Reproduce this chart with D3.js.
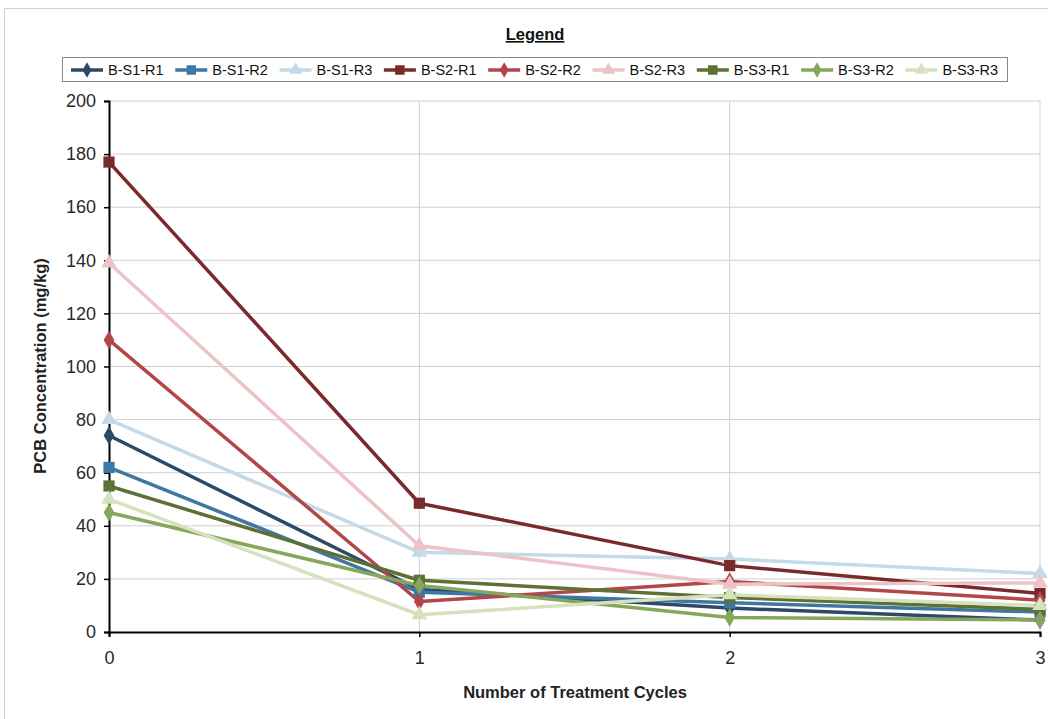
<!DOCTYPE html>
<html><head><meta charset="utf-8">
<script src="https://cdn.jsdelivr.net/npm/d3@7"></script>
<style>body{margin:0;background:#fff;} text{font-family:"Liberation Sans",Arial,sans-serif;}</style>
</head><body><svg id="c" width="1048" height="719"></svg>
<script>
const cycles = [0, 1, 2, 3];
const seriesNames = ["B-S1-R1","B-S1-R2","B-S1-R3","B-S2-R1","B-S2-R2","B-S2-R3","B-S3-R1","B-S3-R2","B-S3-R3"];
const seriesColors = ["#2c4a68","#3f77a3","#c5dae9","#7a2a2c","#b2464a","#ecc3c6","#5d7135","#86a65b","#d6e1bd"];
const seriesShapes = ["diamond","square","triangle","square","diamond","triangle","square","diamond","triangle"];
const s1r1 = [74, 16, 9, 4.5];
const s1r2 = [62, 15, 11, 7.5];
const s1r3 = [80, 30, 27.5, 22];
const s2r1 = [177, 48.5, 25, 14.5];
const s2r2 = [110, 11.5, 19, 12];
const s2r3 = [139, 32.5, 18, 18.5];
const s3r1 = [55, 19.5, 13, 8.5];
const s3r2 = [45, 17.5, 5.5, 4.5];
const s3r3 = [50, 6.5, 14, 10];
const seriesValues = [s1r1,s1r2,s1r3,s2r1,s2r2,s2r3,s3r1,s3r2,s3r3];
const yTicks = [0,20,40,60,80,100,120,140,160,180,200];
const xTicks = [0,1,2,3];

const svg = d3.select("#c");
svg.append("rect").attr("x",4.5).attr("y",8.5).attr("width",1060).attr("height",720)
  .attr("fill","none").attr("stroke","#d0d0d0").attr("stroke-width",1);

const x = d3.scaleLinear().domain([0,3]).range([109,1040]);
const y = d3.scaleLinear().domain([0,200]).range([632,101]);

svg.append("g").selectAll("line").data(yTicks.filter(d=>d>0)).join("line")
  .attr("x1",x(0)).attr("x2",x(3)).attr("y1",d=>y(d)).attr("y2",d=>y(d))
  .attr("stroke","#cfcfcf").attr("stroke-width",1);
svg.append("g").selectAll("line").data(xTicks.filter(d=>d>0)).join("line")
  .attr("x1",d=>x(d)).attr("x2",d=>x(d)).attr("y1",y(0)).attr("y2",y(200))
  .attr("stroke","#cfcfcf").attr("stroke-width",1);

const yAxis = svg.append("g").attr("transform",`translate(${x(0)},0)`)
  .call(d3.axisLeft(y).tickValues(yTicks).tickSize(5).tickPadding(8));
const xAxis = svg.append("g").attr("transform",`translate(0,${y(0)})`)
  .call(d3.axisBottom(x).tickValues(xTicks).tickSize(5).tickPadding(14).tickFormat(d3.format("d")));
[yAxis,xAxis].forEach(a=>{
  a.select(".domain").attr("stroke","#000").attr("stroke-width",2);
  a.selectAll(".tick line").attr("stroke","#000").attr("stroke-width",1.5);
  a.selectAll(".tick text").attr("font-size",18).attr("fill","#2a2a2a")
    .attr("font-family","'Liberation Sans',Arial,sans-serif");
});

const line = d3.line().x((d,i)=>x(cycles[i])).y(d=>y(d));
function sym(shape,size){
  const t = shape==="diamond"?d3.symbolDiamond:shape==="square"?d3.symbolSquare:d3.symbolTriangle;
  return d3.symbol().type(t).size(size)();
}
const g = svg.append("g");
seriesValues.forEach((vals,k)=>{
  g.append("path").datum(vals).attr("d",line).attr("fill","none")
    .attr("stroke",seriesColors[k]).attr("stroke-width",3.5).attr("stroke-linejoin","round");
});
seriesValues.forEach((vals,k)=>{
  const sz = seriesShapes[k]==="square"?125:seriesShapes[k]==="diamond"?100:105;
  g.selectAll(null).data(vals).join("path")
    .attr("transform",(d,i)=>`translate(${x(cycles[i])},${y(d)})`)
    .attr("d",sym(seriesShapes[k],sz)).attr("fill",seriesColors[k]);
});

svg.append("text").attr("x",575).attr("y",698).attr("text-anchor","middle")
  .attr("font-size",16.5).attr("font-weight","bold").attr("fill","#222").text("Number of Treatment Cycles");
svg.append("text").attr("transform","translate(46,366) rotate(-90)").attr("text-anchor","middle")
  .attr("font-size",16.5).attr("font-weight","bold").attr("fill","#222").text("PCB Concentration (mg/kg)");

svg.append("text").attr("x",535).attr("y",40).attr("text-anchor","middle")
  .attr("font-size",16.5).attr("font-weight","bold").attr("fill","#111")
  .attr("text-decoration","underline").text("Legend");
svg.append("rect").attr("x",62.5).attr("y",57.5).attr("width",945).attr("height",24)
  .attr("fill","#fff").attr("stroke","#888").attr("stroke-width",1);
const lg = svg.append("g");
seriesNames.forEach((n,k)=>{
  const tx = 108 + k*104.3;
  const cy = 70;
  lg.append("line").attr("x1",tx-37).attr("x2",tx-5).attr("y1",cy).attr("y2",cy)
    .attr("stroke",seriesColors[k]).attr("stroke-width",3.5);
  const sz = seriesShapes[k]==="square"?90:seriesShapes[k]==="diamond"?70:75;
  lg.append("path").attr("transform",`translate(${tx-21},${cy})`).attr("d",sym(seriesShapes[k],sz))
    .attr("fill",seriesColors[k]);
  lg.append("text").attr("x",tx).attr("y",cy+5).attr("font-size",14.5).attr("fill","#111").text(n);
});
</script></body></html>
